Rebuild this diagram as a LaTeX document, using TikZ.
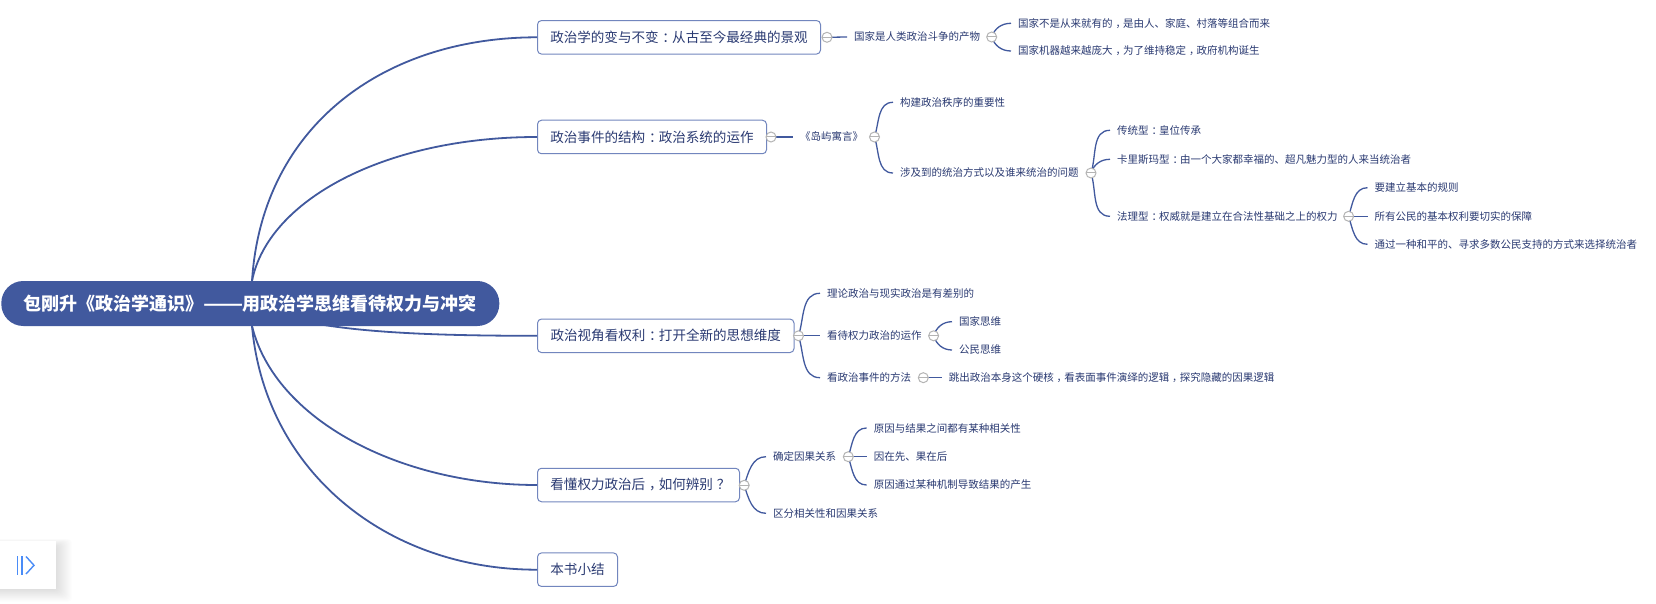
\documentclass[tikz,border=0pt]{standalone}
\usepackage{fontspec}
\usepackage{graphicx}
\setmainfont{Noto Sans CJK SC}
\definecolor{navy}{HTML}{41599E}
\definecolor{ink}{HTML}{2A3A72}
\definecolor{boxline}{HTML}{7286BE}
\definecolor{knob}{HTML}{B4B4B4}
\definecolor{iconblue}{HTML}{4A8CF7}
\newcommand{\pc}[1]{\kern.28em #1\kern-.28em}
\newcommand{\widedash}{\makebox[39pt][c]{\scalebox{1.3}[1]{——}}}
\tikzset{
 x=1pt,y=-1pt,
 rootnode/.style={fill=navy,rounded corners=22pt,minimum width=498pt,minimum height=45pt,inner sep=0pt,text=white,font=\fontsize{18}{20}\selectfont\bfseries},
 mainnode/.style={draw=boxline,line width=1pt,fill=white,rounded corners=4pt,minimum height=33.5pt,inner sep=0pt,anchor=west,text=ink,font=\fontsize{13.55}{15}\selectfont},
 sub/.style={anchor=west,inner sep=0pt,inner xsep=7pt,text=ink,font=\fontsize{10.5}{12}\selectfont},
 knobnode/.style={circle,draw=knob,fill=white,line width=1pt,minimum size=10pt,inner sep=0pt,
   path picture={\draw[knob,line width=1pt] (path picture bounding box.west) -- (path picture bounding box.east);}},
 trunk/.style={draw=navy,line width=1.8pt},
 twig/.style={draw=navy,line width=1.3pt},
}
\newcommand{\up}[2]{\draw[twig] (#1.center) to[out=72,in=180] (#2.west);}
\newcommand{\dn}[2]{\draw[twig] (#1.center) to[out=-72,in=180] (#2.west);}
\newcommand{\st}[2]{\draw[twig] (#1.center) -- (#2.west);}
\begin{document}
\begin{tikzpicture}
\useasboundingbox (0,0) rectangle (1656,604);
\fill[white] (0,0) rectangle (1656,604);
% nodes
\node[mainnode,minimum width=283pt] (m1) at (537,37.3) {政治学的变与不变\pc{：}从古至今最经典的景观};
\node[mainnode,minimum width=229pt] (m2) at (537,137) {政治事件的结构\pc{：}政治系统的运作};
\node[mainnode,minimum width=256.5pt] (m3) at (537,335.8) {政治视角看权利\pc{：}打开全新的思想维度};
\node[mainnode,minimum width=202pt] (m4) at (537,485) {看懂权力政治后\pc{，}如何辨别\pc{？}};
\node[mainnode,minimum width=80pt] (m5) at (537,569.7) {本书小结};
% root
\coordinate (rt) at (252,281);
\coordinate (rb) at (252,326);
\coordinate (rc) at (252,304);
\draw[trunk] (rt) .. controls (262,125) and (385,37.3) .. (m1.west);
\draw[trunk] (rt) .. controls (268,200) and (385,137) .. (m2.west);
\draw[trunk] (rc) .. controls (300,330) and (400,335.8) .. (m3.west);
\draw[trunk] (rb) .. controls (275,420) and (400,485) .. (m4.west);
\draw[trunk] (rb) .. controls (265,470) and (385,569.7) .. (m5.west);
\node[rootnode] (root) at (250.3,303.5) {包刚升《政治学通识》\widedash 用政治学思维看待权力与冲突};
% branch 1
\node[sub] (a) at (847,37) {国家是人类政治斗争的产物};
\node[sub] (a1) at (1011,23.3) {国家不是从来就有的\pc{，}是由人、家庭、村落等组合而来};
\node[sub] (a2) at (1011,51) {国家机器越来越庞大\pc{，}为了维持稳定\pc{，}政府机构诞生};
% branch 2
\node[sub] (b) at (793,137) {《岛屿寓言》};
\node[sub] (b1) at (893,102.3) {构建政治秩序的重要性};
\node[sub] (b2) at (893,173) {涉及到的统治方式以及谁来统治的问题};
\node[sub] (c1) at (1110,130.3) {传统型\pc{：}皇位传承};
\node[sub] (c2) at (1110,159.3) {卡里斯玛型\pc{：}由一个大家都幸福的、超凡魅力型的人来当统治者};
\node[sub] (c3) at (1110,216.3) {法理型\pc{：}权威就是建立在合法性基础之上的权力};
\node[sub] (d1) at (1367.5,187.7) {要建立基本的规则};
\node[sub] (d2) at (1367.5,216.3) {所有公民的基本权利要切实的保障};
\node[sub] (d3) at (1367.5,244.3) {通过一种和平的、寻求多数公民支持的方式来选择统治者};
% branch 3
\node[sub] (e1) at (820,293.3) {理论政治与现实政治是有差别的};
\node[sub] (e2) at (820,335.8) {看待权力政治的运作};
\node[sub] (e3) at (820,377.7) {看政治事件的方法};
\node[sub] (f1) at (952,321.7) {国家思维};
\node[sub] (f2) at (952,350) {公民思维};
\node[sub] (g) at (941.6,377.7) {跳出政治本身这个硬核\pc{，}看表面事件演绎的逻辑\pc{，}探究隐藏的因果逻辑};
% branch 4
\node[sub] (h1) at (766,456.7) {确定因果关系};
\node[sub] (h2) at (766,513.3) {区分相关性和因果关系};
\node[sub] (i1) at (866.6,428) {原因与结果之间都有某种相关性};
\node[sub] (i2) at (866.6,456.7) {因在先、果在后};
\node[sub] (i3) at (866.6,485) {原因通过某种机制导致结果的产生};
% knob anchors, placed first so connectors can name them
\coordinate (k1) at (827,37.3);
\coordinate (k1a) at (991.7,37);
\coordinate (k2) at (771,137);
\coordinate (kb) at (874.5,137);
\coordinate (kb2) at (1091,173);
\coordinate (kc3) at (1348.6,216.3);
\coordinate (k3) at (798.5,335.8);
\coordinate (ke2) at (933.6,335.8);
\coordinate (ke3) at (923.3,377.7);
\coordinate (k4) at (744.2,485.3);
\coordinate (kh) at (848.3,456.7);
% connectors
\st{k1}{a}\up{k1a}{a1}\dn{k1a}{a2}
\st{k2}{b}\up{kb}{b1}\dn{kb}{b2}
\up{kb2}{c1}\up{kb2}{c2}\dn{kb2}{c3}
\up{kc3}{d1}\st{kc3}{d2}\dn{kc3}{d3}
\up{k3}{e1}\st{k3}{e2}\dn{k3}{e3}
\up{ke2}{f1}\dn{ke2}{f2}
\st{ke3}{g}
\up{k4}{h1}\dn{k4}{h2}
\up{kh}{i1}\st{kh}{i2}\dn{kh}{i3}
% knobs above their connectors
\foreach \n in {k1,k1a,k2,kb,kb2,kc3,k3,ke2,ke3,k4,kh}
  \node[knobnode] (knob\n) at (\n) {};
% side button
\foreach \i in {1,...,16}
  \fill[black,opacity=0.007,rounded corners=4pt] (-10,546-0.45*\i) rectangle (56+1*\i,589+0.8*\i);
\node[fill=white,minimum width=56pt,minimum height=48pt,inner sep=0pt] (btn) at (28,565) {};
\draw[iconblue,line width=1.4pt] (17.5,556) -- (17.5,574.5) (21.8,556) -- (21.8,574.5);
\draw[iconblue,line width=1.4pt] (26,556.5) -- (34,565.3) -- (26,574);
\end{tikzpicture}
\end{document}
